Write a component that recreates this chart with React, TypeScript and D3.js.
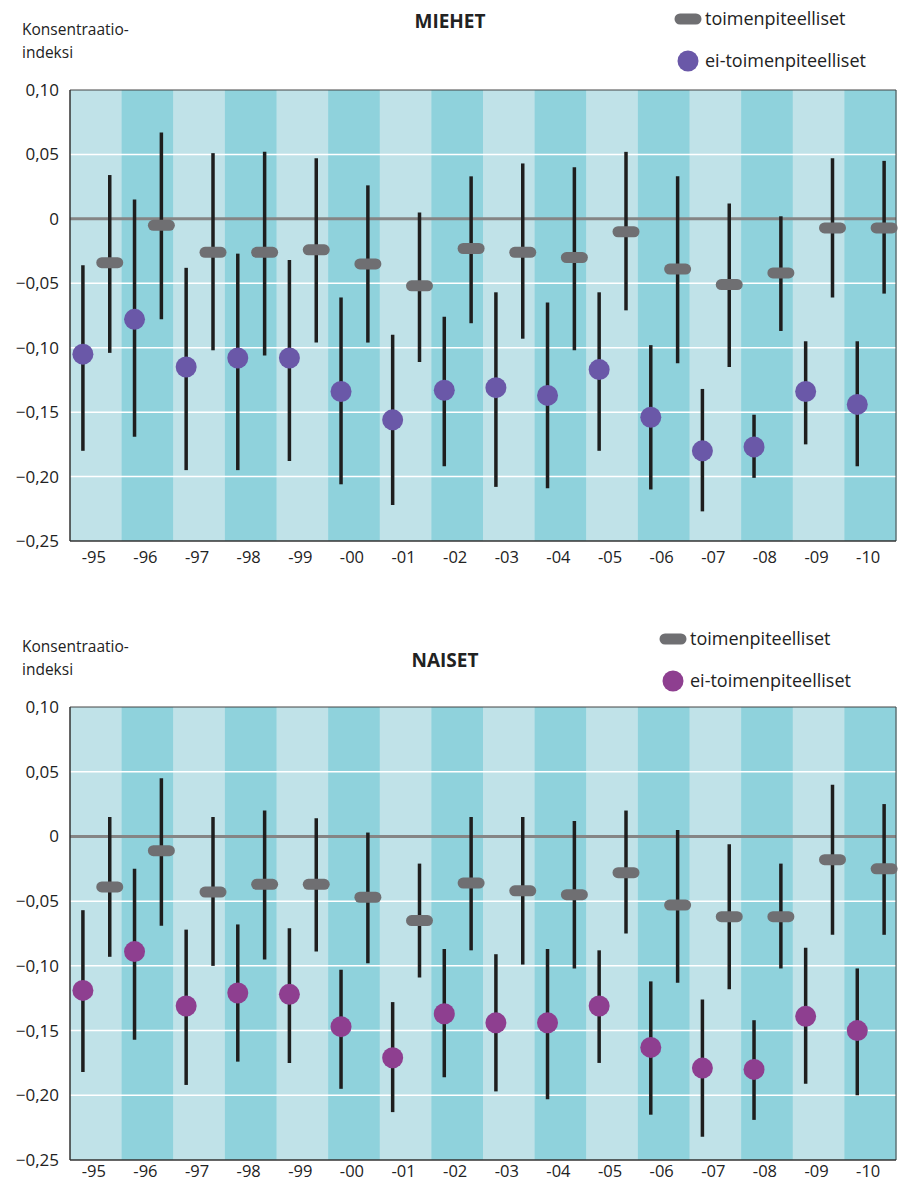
import React from "react";
import * as d3 from "d3";

const years = ["-95", "-96", "-97", "-98", "-99", "-00", "-01", "-02", "-03", "-04", "-05", "-06", "-07", "-08", "-09", "-10"];
const yTicks = [0.1, 0.05, 0, -0.05, -0.1, -0.15, -0.2, -0.25];

// MIEHET
const menEi = [-0.105, -0.078, -0.115, -0.108, -0.108, -0.134, -0.156, -0.133, -0.131, -0.137, -0.117, -0.154, -0.18, -0.177, -0.134, -0.144];
const menEiLo = [-0.18, -0.169, -0.195, -0.195, -0.188, -0.206, -0.222, -0.192, -0.208, -0.209, -0.18, -0.21, -0.227, -0.201, -0.175, -0.192];
const menEiHi = [-0.036, 0.015, -0.038, -0.027, -0.032, -0.061, -0.09, -0.076, -0.057, -0.065, -0.057, -0.098, -0.132, -0.152, -0.095, -0.095];
const menT = [-0.034, -0.005, -0.026, -0.026, -0.024, -0.035, -0.052, -0.023, -0.026, -0.03, -0.01, -0.039, -0.051, -0.042, -0.007, -0.007];
const menTLo = [-0.104, -0.078, -0.102, -0.106, -0.096, -0.096, -0.111, -0.081, -0.093, -0.102, -0.071, -0.112, -0.115, -0.087, -0.061, -0.058];
const menTHi = [0.034, 0.067, 0.051, 0.052, 0.047, 0.026, 0.005, 0.033, 0.043, 0.04, 0.052, 0.033, 0.012, 0.002, 0.047, 0.045];

// NAISET
const womenEi = [-0.119, -0.089, -0.131, -0.121, -0.122, -0.147, -0.171, -0.137, -0.144, -0.144, -0.131, -0.163, -0.179, -0.18, -0.139, -0.15];
const womenEiLo = [-0.182, -0.157, -0.192, -0.174, -0.175, -0.195, -0.213, -0.186, -0.197, -0.203, -0.175, -0.215, -0.232, -0.219, -0.191, -0.2];
const womenEiHi = [-0.057, -0.025, -0.072, -0.068, -0.071, -0.103, -0.128, -0.087, -0.091, -0.087, -0.088, -0.112, -0.126, -0.142, -0.086, -0.102];
const womenT = [-0.039, -0.011, -0.043, -0.037, -0.037, -0.047, -0.065, -0.036, -0.042, -0.045, -0.028, -0.053, -0.062, -0.062, -0.018, -0.025];
const womenTLo = [-0.093, -0.069, -0.1, -0.095, -0.089, -0.098, -0.109, -0.088, -0.099, -0.102, -0.075, -0.113, -0.118, -0.102, -0.076, -0.076];
const womenTHi = [0.015, 0.045, 0.015, 0.02, 0.014, 0.003, -0.021, 0.015, 0.015, 0.012, 0.02, 0.005, -0.006, -0.021, 0.04, 0.025];

const font = "'Open Sans', 'Noto Sans', sans-serif";
const fmt = (v: number) => (v === 0 ? "0" : (v < 0 ? "\u2212" : "") + Math.abs(v).toFixed(2).replace(".", ","));

interface PanelProps {
  top: number;
  bottom: number;
  title: string;
  titleX: number;
  titleY: number;
  legendX: number;
  legendY: number;
  dotColor: string;
  ei: number[]; eiLo: number[]; eiHi: number[];
  t: number[]; tLo: number[]; tHi: number[];
  labelY: number;
}

const Panel: React.FC<PanelProps> = (p) => {
  const left = 70, right = 896;
  const x = d3.scaleBand<string>().domain(years).range([left, right]);
  const y = d3.scaleLinear().domain([-0.25, 0.1]).range([p.bottom, p.top]);
  const bw = x.bandwidth();
  return (
    <g fontFamily={font}>
      {years.map((yr, i) => (
        <rect key={yr} x={x(yr)!} y={p.top} width={bw + 0.5} height={p.bottom - p.top} fill={i % 2 ? "#8fd2dc" : "#c0e2e8"} />
      ))}
      {yTicks.filter((v) => v !== 0.1 && v !== -0.25).map((v) => (
        <line key={v} x1={left} x2={right} y1={y(v)} y2={y(v)} stroke="#fff" strokeWidth={1.5} />
      ))}
      <line x1={left} x2={right} y1={y(0)} y2={y(0)} stroke="#858585" strokeWidth={3} />
      <line x1={left} x2={right} y1={p.top} y2={p.top} stroke="#444" strokeWidth={1} />
      <line x1={right} x2={right} y1={p.top} y2={p.bottom} stroke="#444" strokeWidth={1} />
      <line x1={left} x2={left} y1={p.top} y2={p.bottom} stroke="#333" strokeWidth={1.5} />
      <line x1={left} x2={right} y1={p.bottom} y2={p.bottom} stroke="#333" strokeWidth={1.5} />
      {yTicks.map((v) => (
        <text key={v} x={59} y={y(v) + 6} textAnchor="end" fontSize={17} fill="#222">{fmt(v)}</text>
      ))}
      {years.map((yr) => (
        <text key={yr} x={x(yr)! + bw / 2 - 2} y={p.labelY} textAnchor="middle" fontSize={16.5} fill="#222">{yr}</text>
      ))}
      {years.map((yr, i) => {
        const xe = x(yr)! + bw * 0.25;
        const xt = x(yr)! + bw * 0.77;
        return (
          <g key={yr}>
            <line x1={xt} x2={xt} y1={y(p.tLo[i])} y2={y(p.tHi[i])} stroke="#1e1e1e" strokeWidth={3.5} />
            <line x1={xt - 8} x2={xt + 8} y1={y(p.t[i])} y2={y(p.t[i])} stroke="#6f6f72" strokeWidth={11} strokeLinecap="round" />
            <line x1={xe} x2={xe} y1={y(p.eiLo[i])} y2={y(p.eiHi[i])} stroke="#1e1e1e" strokeWidth={3.5} />
            <circle cx={xe} cy={y(p.ei[i])} r={10.5} fill={p.dotColor} />
          </g>
        );
      })}
      <text x={p.titleX} y={p.titleY} textAnchor="middle" fontSize={19} fontWeight="bold" fill="#222">{p.title}</text>
      <text x={22} y={p.top - 55} fontSize={15.5} fill="#222">Konsentraatio-</text>
      <text x={22} y={p.top - 32} fontSize={15.5} fill="#222">indeksi</text>
      <line x1={p.legendX - 8} x2={p.legendX + 8} y1={p.legendY} y2={p.legendY} stroke="#6f6f72" strokeWidth={11} strokeLinecap="round" />
      <text x={p.legendX + 17} y={p.legendY + 6} fontSize={18} fill="#222">toimenpiteelliset</text>
      <circle cx={p.legendX} cy={p.legendY + 42} r={10.5} fill={p.dotColor} />
      <text x={p.legendX + 17} y={p.legendY + 48} fontSize={18} fill="#222">ei-toimenpiteelliset</text>
    </g>
  );
};

const App: React.FC = () => (
  <svg width={898} height={1183} style={{ position: "absolute", left: 0, top: 0 }}>
    <rect width={898} height={1183} fill="#fff" />
    <Panel top={90} bottom={541} title="MIEHET" titleX={450} titleY={28} legendX={688} legendY={19}
      dotColor="#6a58a8" ei={menEi} eiLo={menEiLo} eiHi={menEiHi} t={menT} tLo={menTLo} tHi={menTHi} labelY={563} />
    <Panel top={707} bottom={1160} title="NAISET" titleX={445} titleY={667} legendX={673} legendY={639}
      dotColor="#8e3f90" ei={womenEi} eiLo={womenEiLo} eiHi={womenEiHi} t={womenT} tLo={womenTLo} tHi={womenTHi} labelY={1177} />
  </svg>
);

export default App;
